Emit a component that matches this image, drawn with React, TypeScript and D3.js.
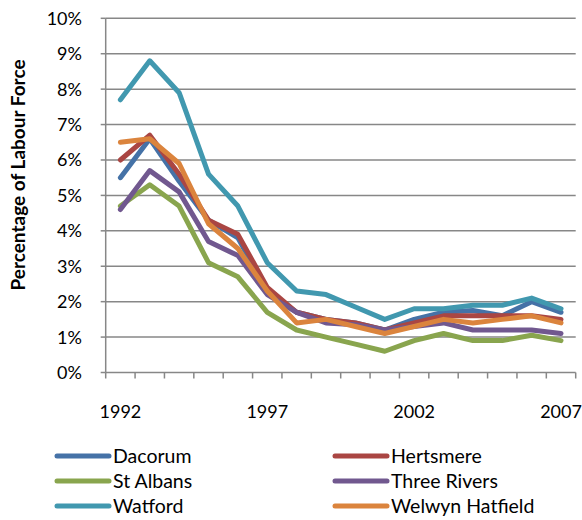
import React from "react";
import * as d3 from "d3";

const years = [1992,1993,1994,1995,1996,1997,1998,1999,2000,2001,2002,2003,2004,2005,2006,2007];
const dacorum = [5.5,6.6,5.4,4.3,3.8,2.3,1.7,1.5,1.4,1.2,1.5,1.7,1.75,1.6,2.0,1.7];
const hertsmere = [6.0,6.7,5.6,4.3,3.9,2.4,1.7,1.5,1.4,1.2,1.4,1.6,1.6,1.6,1.6,1.5];
const stAlbans = [4.7,5.3,4.7,3.1,2.7,1.7,1.2,1.0,0.8,0.6,0.9,1.1,0.9,0.9,1.05,0.9];
const threeRivers = [4.6,5.7,5.1,3.7,3.3,2.2,1.7,1.4,1.35,1.2,1.3,1.4,1.2,1.2,1.2,1.1];
const watford = [7.7,8.8,7.9,5.6,4.7,3.1,2.3,2.2,1.85,1.5,1.8,1.8,1.9,1.9,2.1,1.8];
const welwyn = [6.5,6.6,5.9,4.2,3.5,2.3,1.4,1.5,1.3,1.1,1.3,1.5,1.4,1.5,1.6,1.4];
const seriesNames = ["Dacorum","Hertsmere","St Albans","Three Rivers","Watford","Welwyn Hatfield"];
const seriesValues = [dacorum, hertsmere, stAlbans, threeRivers, watford, welwyn];
const colors = ["#4572A7","#AA4643","#89A54E","#71588F","#4198AF","#DB843D"];
const yTicks = [0,1,2,3,4,5,6,7,8,9,10];
const xLabelYears = [1992,1997,2002,2007];

const W = 582, H = 520;
const left = 105.7, right = 575.7, top = 18.3, bottom = 372.5;
const font = "Lato, 'Open Sans', sans-serif";

export default function App() {
  const x = d3.scaleBand<number>().domain(years).range([left, right]).padding(0);
  const y = d3.scaleLinear().domain([0, 10]).range([bottom, top]);
  const cx = (yr: number) => (x(yr) as number) + x.bandwidth() / 2;
  const line = d3.line<number>().x((_, i) => cx(years[i])).y(d => y(d));
  const grid = "#878787";
  const legendRows = [456, 481, 506];
  const legendCols = [55, 333];
  return (
    <svg width={W} height={H} style={{ position: "absolute", left: 0, top: 0, background: "#fff" }}>
      {yTicks.map(t => (
        <g key={t}>
          {t > 0 && <line x1={left} x2={right} y1={y(t)} y2={y(t)} stroke={grid} strokeWidth={1.5} />}
          <line x1={left - 5} x2={left} y1={y(t)} y2={y(t)} stroke={grid} strokeWidth={1.5} />
          <text x={82} y={y(t) + 6.5} textAnchor="end" fontFamily={font} fontSize={18} fill="#000">{t}%</text>
        </g>
      ))}
      <line x1={left} x2={left} y1={top} y2={bottom} stroke={grid} strokeWidth={1.5} />
      <line x1={left} x2={right} y1={bottom} y2={bottom} stroke={grid} strokeWidth={1.5} />
      {years.concat([years[years.length - 1] + 1]).map((yr, i) => {
        const xx = left + i * x.bandwidth();
        return <line key={i} x1={xx} x2={xx} y1={bottom} y2={bottom + 6} stroke={grid} strokeWidth={1.5} />;
      })}
      {xLabelYears.map(yr => (
        <text key={yr} x={cx(yr)} y={417.5} textAnchor="middle" fontFamily={font} fontSize={18} fill="#000">{yr}</text>
      ))}
      <text transform={`translate(25, 175) rotate(-90)`} textAnchor="middle" fontFamily={font} fontSize={19} fontWeight="bold" fill="#000">Percentage of Labour Force</text>
      {seriesValues.map((vals, i) => (
        <path key={i} d={line(vals) || ""} fill="none" stroke={colors[i]} strokeWidth={5} strokeLinejoin="round" strokeLinecap="round" />
      ))}
      {seriesNames.map((name, i) => {
        const col = i % 2, row = Math.floor(i / 2);
        const lx = legendCols[col], ly = legendRows[row];
        return (
          <g key={name}>
            <line x1={lx + 2} x2={lx + 54} y1={ly} y2={ly} stroke={colors[i]} strokeWidth={5} strokeLinecap="round" />
            <text x={lx + 58} y={ly + 7} fontFamily={font} fontSize={19.5} fill="#000">{name}</text>
          </g>
        );
      })}
    </svg>
  );
}
